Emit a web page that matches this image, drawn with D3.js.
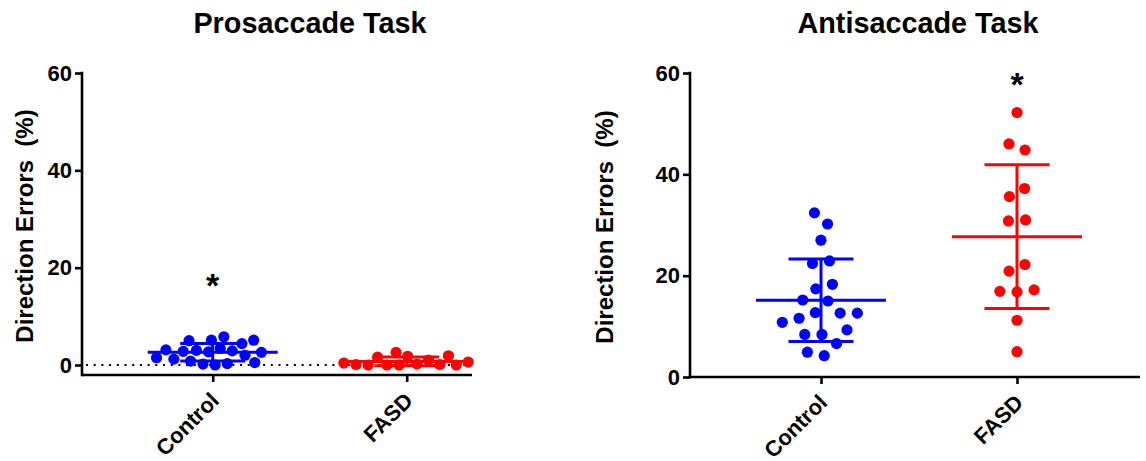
<!DOCTYPE html>
<html>
<head>
<meta charset="utf-8">
<script src="https://cdn.jsdelivr.net/npm/d3@7"></script>
<style>
  body { margin: 0; background: #fff; }
  text { font-family: Arial, "Liberation Sans", sans-serif; font-weight: bold; fill: #000; }
</style>
</head>
<body>
<svg id="chart" width="1146" height="461"></svg>
<script>
// Direction errors (%) per participant
const categories = ["Control", "FASD"];
const prosaccadeControl = [5.8, 5.1, 5.1, 5.0, 4.4, 3.4, 3.1, 3.0, 2.9, 2.8, 2.7, 2.6, 2.0, 1.5, 1.2, 0.8, 0.5, 0.3, 0.2, 0.0];
const prosaccadeFASD = [2.6, 1.9, 1.8, 1.6, 1.0, 0.6, 0.4, 0.2, 0.1, 0.1, 0.0, 0.0, 0.0, 0.0];
const antisaccadeControl = [32.4, 30.2, 27.0, 22.9, 22.4, 18.3, 17.4, 15.2, 15.0, 12.7, 12.6, 12.6, 11.6, 10.8, 9.3, 8.4, 8.4, 6.6, 4.9, 4.2];
const antisaccadeFASD = [52.2, 46.0, 44.8, 37.2, 35.6, 31.0, 30.8, 22.2, 20.9, 17.2, 16.9, 16.8, 11.2, 5.0];
const yTicks = [0, 20, 40, 60];
const yLabel = "Direction Errors  (%)";
const titles = ["Prosaccade Task", "Antisaccade Task"];
// significance markers: group and the value the star sits at
const prosaccadeStars = [{ group: "Control", value: 18 }];
const antisaccadeStars = [{ group: "FASD", value: 59.3 }];

const colors = { Control: "#0000ff", FASD: "#ff0000" };

const panels = [
  { title: titles[0], series: { Control: prosaccadeControl, FASD: prosaccadeFASD }, stars: prosaccadeStars,
    left: 82, right: 472, top: 73, zero: 365, axisY: 375, cat: [212.7, 406.7], titleX: 310, labelX: 33,
    refLine: true, spread: 6.1 },
  { title: titles[1], series: { Control: antisaccadeControl, FASD: antisaccadeFASD }, stars: antisaccadeStars,
    left: 690, right: 1140, top: 73, zero: 377, axisY: 377, cat: [821, 1017], titleX: 918, labelX: 613,
    refLine: false, spread: 8.6 }
];

const svg = d3.select("#chart");
const R = 5.6;          // dot radius
const MEAN_HALF = 65;   // half width of the mean line
const CAP_HALF = 32.5;  // half width of the SD caps
const FONT = "Arial, 'Liberation Sans', sans-serif";

// lay points out as a beeswarm: y is fixed by the value, x is pushed apart
function swarm(values, cx, y, spread) {
  const nodes = values.map(v => ({ v, x: cx, fy: y(v) }));
  const sim = d3.forceSimulation(nodes)
    .force("x", d3.forceX(cx).strength(0.08))
    .force("collide", d3.forceCollide(spread).iterations(3))
    .stop();
  for (let i = 0; i < 400; i++) sim.tick();
  return nodes;
}

panels.forEach(p => {
  const g = svg.append("g");
  const y = d3.scaleLinear().domain([0, 60]).range([p.zero, p.top]);
  const x = d3.scaleOrdinal().domain(categories).range(p.cat);

  // title
  g.append("text").attr("x", p.titleX).attr("y", 33).attr("text-anchor", "middle")
    .style("font-size", "28.8px").text(p.title);

  // y axis label
  g.append("text")
    .attr("transform", `translate(${p.labelX},${(p.top + p.axisY) / 2 + 2}) rotate(-90)`)
    .attr("text-anchor", "middle").style("font-size", "24px").style("white-space", "pre").text(yLabel);

  // dotted reference line at zero
  if (p.refLine) {
    g.append("line").attr("x1", p.left + 4).attr("x2", p.right)
      .attr("y1", y(0)).attr("y2", y(0))
      .attr("stroke", "#000").attr("stroke-width", 2).attr("stroke-dasharray", "2,5.7");
  }

  // y axis
  const yAxis = g.append("g").attr("transform", `translate(${p.left},0)`)
    .call(d3.axisLeft(y).tickValues(yTicks).tickSize(7).tickPadding(3).tickSizeOuter(0));
  yAxis.select(".domain").remove();
  yAxis.selectAll(".tick line").attr("stroke", "#000").attr("stroke-width", 2.6);
  yAxis.selectAll(".tick text").style("font-size", "22px").style("font-family", FONT);
  g.append("line").attr("x1", p.left).attr("x2", p.left).attr("y1", p.top - 1.3).attr("y2", p.axisY + 1.3)
    .attr("stroke", "#000").attr("stroke-width", 2.6);

  // x axis
  const xAxis = g.append("g").attr("transform", `translate(0,${p.axisY})`)
    .call(d3.axisBottom(x).tickSize(7).tickSizeOuter(0));
  xAxis.select(".domain").remove();
  xAxis.selectAll(".tick line").attr("stroke", "#000").attr("stroke-width", 2.6);
  xAxis.selectAll(".tick text")
    .style("font-size", "22px").style("font-family", FONT)
    .attr("text-anchor", "end").attr("dy", null).attr("y", null)
    .attr("transform", "translate(7,27) rotate(-45)");
  g.append("line").attr("x1", p.left).attr("x2", p.right).attr("y1", p.axisY).attr("y2", p.axisY)
    .attr("stroke", "#000").attr("stroke-width", 2.6);

  categories.forEach(cat => {
    const vals = p.series[cat];
    const cx = x(cat);
    const col = colors[cat];
    const nodes = swarm(vals, cx, y, p.spread);

    g.append("g").selectAll("circle").data(nodes).join("circle")
      .attr("cx", d => d.x).attr("cy", d => d.fy).attr("r", R).attr("fill", col);

    const m = d3.mean(vals), sd = d3.deviation(vals);
    const eb = g.append("g").attr("stroke", col).attr("stroke-width", 3).attr("fill", "none");
    eb.append("line").attr("x1", cx - MEAN_HALF).attr("x2", cx + MEAN_HALF).attr("y1", y(m)).attr("y2", y(m));
    eb.append("line").attr("x1", cx).attr("x2", cx).attr("y1", y(m + sd)).attr("y2", y(m - sd));
    eb.append("line").attr("x1", cx - CAP_HALF).attr("x2", cx + CAP_HALF).attr("y1", y(m + sd)).attr("y2", y(m + sd));
    eb.append("line").attr("x1", cx - CAP_HALF).attr("x2", cx + CAP_HALF).attr("y1", y(m - sd)).attr("y2", y(m - sd));
  });

  // significance stars
  const starSize = 34;
  g.selectAll("text.star").data(p.stars).join("text").attr("class", "star")
    .attr("x", d => x(d.group)).attr("y", d => y(d.value) + 0.575 * starSize)
    .attr("text-anchor", "middle").style("font-size", starSize + "px").text("*");
});
</script>
</body>
</html>
